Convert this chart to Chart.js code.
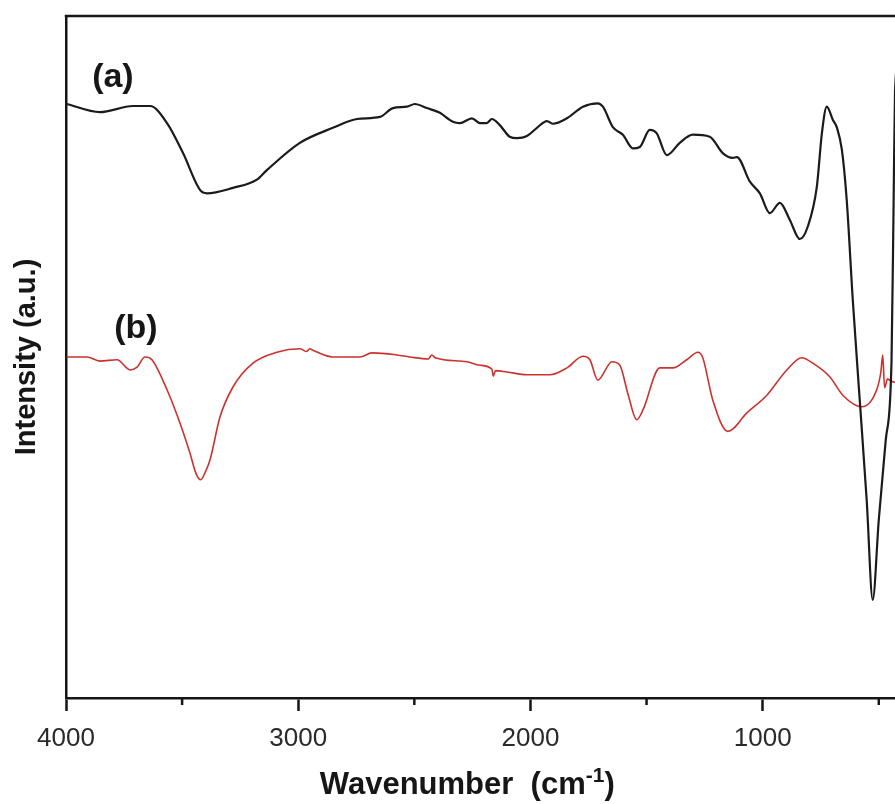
<!DOCTYPE html>
<html>
<head>
<meta charset="utf-8">
<title>FTIR spectra</title>
<script src="https://cdn.jsdelivr.net/npm/chart.js@4/dist/chart.umd.min.js"></script>
<style>
  html, body { margin: 0; padding: 0; background: #fff; overflow: hidden; }
  #wrap { width: 910px; height: 804px; }
</style>
</head>
<body>
<div id="wrap"><canvas id="ftirChart"></canvas></div>
<script>
// ---- spectrum (a) ----
const wavenumbersA = [3997, 3854, 3712, 3638, 3565, 3496, 3423, 3393, 3281, 3178, 3135, 2993, 2851, 2747, 2648, 2592,
  2532, 2498, 2446, 2390, 2334, 2304, 2252, 2218, 2188, 2166, 2132, 2089, 2058, 2015, 1972, 1929, 1903, 1843, 1774,
  1710, 1688, 1645, 1602, 1559, 1529, 1486, 1456, 1413, 1357, 1301, 1228, 1172, 1129, 1111, 1055, 1012, 969, 926, 883,
  840, 806, 767, 745, 724, 698, 681, 659, 638, 612, 582, 552, 526, 500, 470, 445, 436, 430, 400];
const intensityA = [87.1, 85.9, 86.8, 86.8, 84.3, 79.9, 74.5, 74.0, 74.8, 76.0, 77.4, 81.4, 83.6, 84.9, 85.2, 86.5,
  86.7, 87.1, 86.5, 85.8, 84.5, 84.3, 85.0, 84.3, 84.3, 84.9, 84.0, 82.3, 82.1, 82.4, 83.6, 84.6, 84.2, 85.0, 86.7,
  87.2, 86.7, 83.7, 82.6, 80.6, 80.8, 83.3, 82.8, 79.6, 81.4, 82.6, 82.3, 79.9, 79.2, 79.3, 75.7, 74.0, 71.1, 72.6, 70.1,
  67.3, 69.1, 74.9, 82.8, 86.7, 84.8, 83.7, 80.4, 73.0, 58.4, 43.7, 29.0, 14.4, 26.1, 37.8, 49.6, 73.0, 89.0, 96.5];

// ---- spectrum (b) ----
const wavenumbersB = [3997, 3910, 3854, 3780, 3724, 3694, 3660, 3630, 3565, 3509, 3466, 3440, 3420, 3398, 3380, 3337,
  3281, 3195, 3092, 2993, 2965, 2950, 2937, 2851, 2734, 2683, 2575, 2519, 2440, 2425, 2410, 2274, 2218, 2166, 2160,
  2150, 2101, 2015, 1916, 1843, 1774, 1744, 1710, 1649, 1615, 1581, 1542, 1516, 1443, 1387, 1327, 1279, 1258, 1215,
  1150, 1068, 982, 896, 832, 784, 711, 655, 573, 509, 491, 483, 475, 462, 453, 431, 400];
const intensityB = [50.0, 50.0, 49.4, 49.6, 48.1, 48.5, 50.0, 49.6, 45.2, 40.3, 35.9, 32.9, 32.0, 33.3, 34.9, 41.2,
  45.6, 49.1, 50.7, 51.2, 50.8, 51.2, 51.0, 50.0, 50.0, 50.6, 50.3, 50.0, 49.7, 50.3, 49.9, 49.3, 48.8, 48.2, 47.2,
  48.0, 47.8, 47.4, 47.4, 48.4, 50.1, 49.6, 46.6, 49.3, 48.8, 44.7, 40.8, 42.2, 48.4, 48.4, 49.6, 50.7, 49.9, 43.7,
  39.1, 41.8, 44.4, 48.1, 49.9, 49.1, 47.1, 44.4, 42.7, 45.2, 47.8, 50.3, 45.5, 46.8, 46.6, 46.3, 46.5];

// ---- axis ticks ----
const majorTicks = [4000, 3000, 2000, 1000];
const minorTicks = [3500, 2500, 1500, 500];

const FONT = "'Liberation Sans', Arial, Helvetica, sans-serif";
const INK = '#161616';

function toPoints(xs, ys) {
  return xs.map((w, i) => ({ x: w, y: ys[i] }));
}

// frame top edge, minor ticks, curve tags and the x title with superscript
const spectrumDecor = {
  id: 'spectrumDecor',
  afterDraw(chart) {
    const { ctx, chartArea, scales } = chart;
    const xs = scales.x, ys = scales.y;
    ctx.save();
    ctx.strokeStyle = INK;
    ctx.lineWidth = 2.5;
    ctx.beginPath();
    ctx.moveTo(chartArea.left - 1.25, chartArea.top);
    ctx.lineTo(chartArea.right + 10, chartArea.top);
    ctx.stroke();

    minorTicks.forEach(v => {
      const px = xs.getPixelForValue(v);
      ctx.beginPath();
      ctx.moveTo(px, chartArea.bottom);
      ctx.lineTo(px, chartArea.bottom + 7);
      ctx.stroke();
    });

    ctx.fillStyle = INK;
    ctx.textAlign = 'center';
    ctx.textBaseline = 'middle';
    ctx.font = 'bold 34px ' + FONT;
    ctx.fillText('(a)', xs.getPixelForValue(3798), ys.getPixelForValue(90.9));
    ctx.fillText('(b)', xs.getPixelForValue(3699), ys.getPixelForValue(54.1));

    // Wavenumber (cm-1)
    const main = 'bold 31px ' + FONT, sup = 'bold 21px ' + FONT;
    const partA = 'Wavenumber  (cm', partB = '-1', partC = ')';
    ctx.font = main; const wA = ctx.measureText(partA).width, wC = ctx.measureText(partC).width;
    ctx.font = sup; const wB = ctx.measureText(partB).width;
    const cx = chartArea.left + (chartArea.right - chartArea.left) * 0.48;
    const cy = 783;
    let x0 = cx - (wA + wB + wC) / 2;
    ctx.textAlign = 'left';
    ctx.textBaseline = 'alphabetic';
    const base = cy + 11;
    ctx.font = main; ctx.fillText(partA, x0, base); x0 += wA;
    ctx.font = sup; ctx.fillText(partB, x0, base - 12); x0 += wB;
    ctx.font = main; ctx.fillText(partC, x0, base);
    ctx.restore();
  }
};

new Chart(document.getElementById('ftirChart'), {
  type: 'line',
  data: {
    datasets: [
      {
        label: '(a)',
        data: toPoints(wavenumbersA, intensityA),
        borderColor: '#1b1b1b',
        borderWidth: 2.2,
        pointRadius: 0,
        cubicInterpolationMode: 'monotone'
      },
      {
        label: '(b)',
        data: toPoints(wavenumbersB, intensityB),
        borderColor: '#cc322d',
        borderWidth: 1.6,
        pointRadius: 0,
        cubicInterpolationMode: 'monotone'
      }
    ]
  },
  options: {
    responsive: true,
    maintainAspectRatio: false,
    animation: false,
    layout: { padding: { left: 0, top: 16, right: 8, bottom: 0 } },
    plugins: {
      legend: { display: false },
      tooltip: { enabled: false }
    },
    scales: {
      x: {
        type: 'linear',
        reverse: true,
        min: 400,
        max: 4000,
        afterBuildTicks: scale => { scale.ticks = majorTicks.map(v => ({ value: v })); },
        afterFit: scale => { scale.height = 106; },
        grid: { drawOnChartArea: false, drawTicks: true, tickLength: 13, tickWidth: 2.5, tickColor: INK },
        border: { display: true, width: 2.5, color: INK },
        ticks: {
          color: '#2a2a2a',
          padding: 12,
          maxRotation: 0,
          font: { family: FONT, size: 26 },
          callback: v => String(v)
        }
      },
      y: {
        min: 0,
        max: 100,
        afterFit: scale => { scale.width = 66; },
        grid: { display: false },
        border: { display: true, width: 2.5, color: INK },
        ticks: { display: false },
        title: {
          display: true,
          text: 'Intensity (a.u.)',
          color: INK,
          padding: { top: 10, bottom: 0 },
          font: { family: FONT, size: 29, weight: 'bold' }
        }
      }
    }
  },
  plugins: [spectrumDecor]
});
</script>
</body>
</html>
